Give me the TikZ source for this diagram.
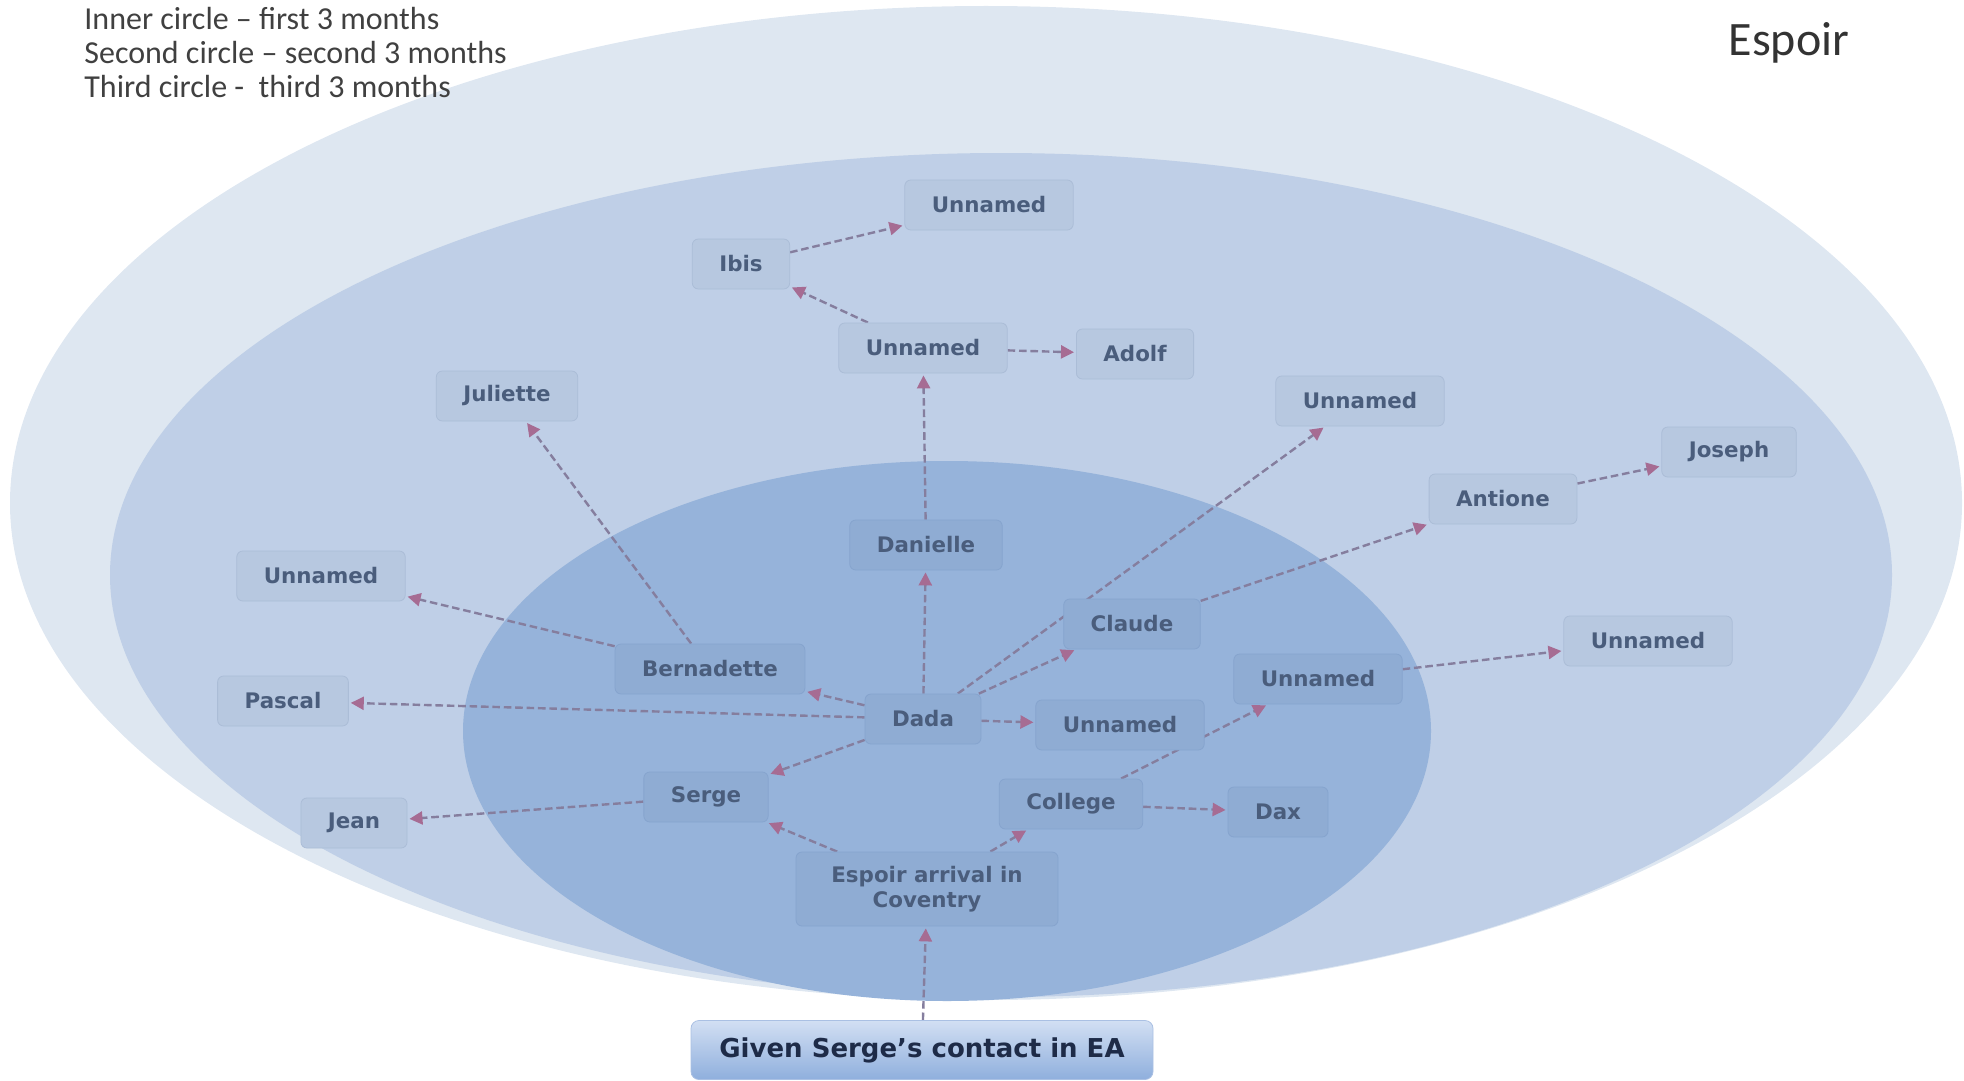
\documentclass[tikz,border=0pt]{standalone}
\usepackage{fontspec}
\setmainfont{DejaVu Sans}
\newfontfamily\calib{Carlito}
\usepackage{tikz}
\usetikzlibrary{arrows.meta,shapes,positioning}
\pgfdeclarelayer{rings}
\pgfdeclarelayer{links}
\pgfsetlayers{rings,links,main}

\definecolor{ringthree}{HTML}{DEE7F1}
\definecolor{ringtwo}{HTML}{BFCFE7}
\definecolor{ringone}{HTML}{96B3DA}
\definecolor{boxtxt}{HTML}{4A5D7C}
\definecolor{linkcol}{HTML}{857E9E}
\definecolor{tipcol}{HTML}{A66C93}

\tikzstyle{person}=[rectangle, rounded corners=3pt, minimum height=25pt, inner xsep=13.5pt,
  font=\fontsize{10.7}{12.8}\selectfont\bfseries, text=boxtxt, align=center]
\tikzstyle{twobox}=[person, fill={rgb,255:red,183;green,200;blue,224}, draw={rgb,255:red,171;green,189;blue,215}]
\tikzstyle{onebox}=[person, fill={rgb,255:red,143;green,172;blue,211}, draw={rgb,255:red,134;green,164;blue,206}]
\tikzstyle{entrybox}=[rectangle, rounded corners=4pt, minimum width=231pt, minimum height=29.5pt,
  top color={rgb,255:red,210;green,223;blue,243}, bottom color={rgb,255:red,143;green,175;blue,221},
  draw={rgb,255:red,170;green,192;blue,227}, text={rgb,255:red,30;green,43;blue,72},
  font=\fontsize{13}{15}\selectfont\bfseries]
\tikzstyle{link}=[draw=linkcol, line width=1.2pt, dash pattern=on 3.8pt off 1.9pt,
  -{Triangle[length=6.5pt,width=6.5pt,color=tipcol]}, shorten >=1pt]

\begin{document}
\begin{tikzpicture}[x=0.5pt, y=-0.5pt]
\useasboundingbox (0,0) rectangle (1964,1081);

% circles
\begin{pgfonlayer}{rings}
\fill[ringthree] (986,503) ellipse [x radius=488pt, y radius=248.5pt];
\fill[ringtwo] (1001,575) ellipse [x radius=445.5pt, y radius=211pt];
\fill[ringone] (947,731) ellipse [x radius=242pt, y radius=135pt];
\end{pgfonlayer}

\node[anchor=north west, inner sep=0, align=left, text={rgb,255:red,64;green,64;blue,64},
  font=\calib\fontsize{16}{16.9}\selectfont] (legend) at (84,7)
  {Inner circle – first 3 months\\ Second circle – second 3 months\\ Third circle - \ third 3 months};
\node[text={rgb,255:red,51;green,51;blue,51}, font=\calib\fontsize{24}{28}\selectfont] (title) at (1789,43) {Espoir};

% second circle
\node[twobox] (utop) at (989,205) {Unnamed};
\node[twobox] (ibis) at (741,264) {Ibis};
\node[twobox] (uup) at (923,348) {Unnamed};
\node[twobox] (adolf) at (1135,354) {Adolf};
\node[twobox] (juliette) at (507,396) {Juliette};
\node[twobox] (uright) at (1360,401) {Unnamed};
\node[twobox] (joseph) at (1729,452) {Joseph};
\node[twobox] (antione) at (1503,499) {Antione};
\node[twobox] (uleft) at (321,576) {Unnamed};
\node[twobox] (ufar) at (1648,641) {Unnamed};
\node[twobox] (pascal) at (283,701) {Pascal};
\node[twobox] (jean) at (354,823) {Jean};

% inner circle
\node[onebox] (danielle) at (926,545) {Danielle};
\node[onebox] (claude) at (1132,624) {Claude};
\node[onebox] (bernadette) at (710,669) {Bernadette};
\node[onebox] (uside) at (1318,679) {Unnamed};
\node[onebox] (dada) at (923,719) {Dada};
\node[onebox] (umid) at (1120,725) {Unnamed};
\node[onebox] (serge) at (706,797) {Serge};
\node[onebox] (college) at (1071,804) {College};
\node[onebox] (dax) at (1278,812) {Dax};
\node[onebox, minimum width=131pt, minimum height=37pt] (arrival) at (927,889) {Espoir arrival in\\ Coventry};

\node[entrybox] (given) at (922,1050) {Given Serge’s contact in EA};

% links
\begin{pgfonlayer}{links}
\draw[link] (given) -- (arrival);
\draw[link] (arrival) -- (serge);
\draw[link] (arrival) -- (college);
\draw[link] (serge) -- (jean);
\draw[link] (college) -- (dax);
\draw[link] (college) -- (uside);
\draw[link] (uside) -- (ufar);
\draw[link] (dada) -- (serge);
\draw[link] (dada) -- (pascal);
\draw[link] (dada) -- (bernadette);
\draw[link] (dada) -- (danielle);
\draw[link] (dada) -- (umid);
\draw[link] (dada) -- (claude);
\draw[link] (dada) -- (uright);
\draw[link] (claude) -- (antione);
\draw[link] (antione) -- (joseph);
\draw[link] (bernadette) -- (uleft);
\draw[link] (bernadette) -- (juliette);
\draw[link] (danielle) -- (uup);
\draw[link] (uup) -- (adolf);
\draw[link] (uup) -- (ibis);
\draw[link] (ibis) -- (utop);
\end{pgfonlayer}

\end{tikzpicture}
\end{document}
